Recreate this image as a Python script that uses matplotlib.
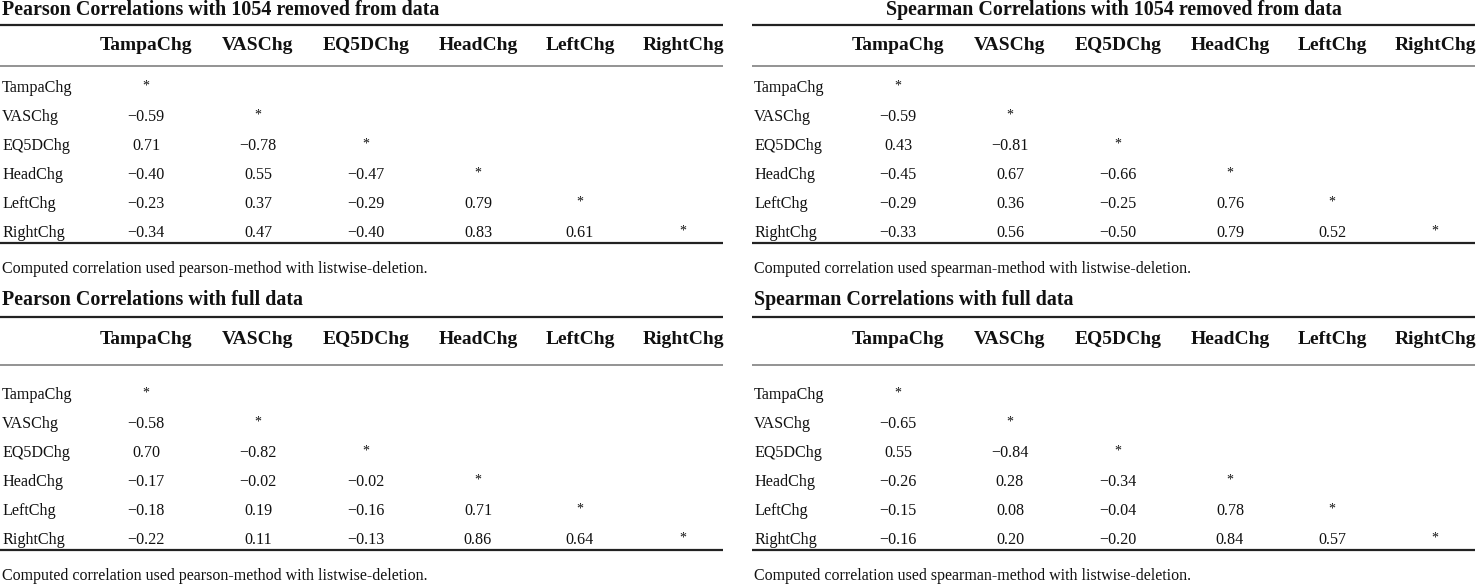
import matplotlib
matplotlib.use("Agg")
import matplotlib.pyplot as plt

# variable names (rows and columns are the same)
variables = ["TampaChg", "VASChg", "EQ5DChg", "HeadChg", "LeftChg", "RightChg"]

# lower triangle of each correlation matrix, row by row (diagonal shown as *)
pearson_removed = [
    [],
    [-0.59],
    [0.71, -0.78],
    [-0.40, 0.55, -0.47],
    [-0.23, 0.37, -0.29, 0.79],
    [-0.34, 0.47, -0.40, 0.83, 0.61],
]
spearman_removed = [
    [],
    [-0.59],
    [0.43, -0.81],
    [-0.45, 0.67, -0.66],
    [-0.29, 0.36, -0.25, 0.76],
    [-0.33, 0.56, -0.50, 0.79, 0.52],
]
pearson_full = [
    [],
    [-0.58],
    [0.70, -0.82],
    [-0.17, -0.02, -0.02],
    [-0.18, 0.19, -0.16, 0.71],
    [-0.22, 0.11, -0.13, 0.86, 0.64],
]
spearman_full = [
    [],
    [-0.65],
    [0.55, -0.84],
    [-0.26, 0.28, -0.34],
    [-0.15, 0.08, -0.04, 0.78],
    [-0.16, 0.20, -0.20, 0.84, 0.57],
]

titles = [
    "Pearson Correlations with 1054 removed from data",
    "Spearman Correlations with 1054 removed from data",
    "Pearson Correlations with full data",
    "Spearman Correlations with full data",
]
notes = [
    "Computed correlation used pearson-method with listwise-deletion.",
    "Computed correlation used spearman-method with listwise-deletion.",
    "Computed correlation used pearson-method with listwise-deletion.",
    "Computed correlation used spearman-method with listwise-deletion.",
]

W, H = 1476, 585
FONT = "Liberation Serif"
INK = "#111111"

fig = plt.figure(figsize=(W / 100, H / 100), dpi=100)
ax = fig.add_axes([0, 0, 1, 1])
ax.set_xlim(0, W)
ax.set_ylim(H, 0)
ax.axis("off")

col_x = [146, 258, 366, 478, 580, 683]
panel_w = 723


def fmt(v):
    s = f"{abs(v):.2f}"
    return ("\u2212" + s) if v < 0 else s


def draw_table(x0, base, rows_y0, gaps, data, title, note, centered_title):
    # title sits on its baseline
    tx, ha = (x0 + panel_w / 2, "center") if centered_title else (x0 + 2, "left")
    ax.text(tx, base, title, ha=ha, va="baseline",
            fontsize=14.4, fontweight="bold", family=FONT, color=INK)
    y_rule1 = base + gaps[0]
    y_head = base + gaps[1]
    y_rule2 = base + gaps[2]
    ax.hlines(y_rule1, x0, x0 + panel_w, color="#222222", lw=1.6)
    ax.hlines(y_rule2, x0, x0 + panel_w, color="#8a8a8a", lw=1.3)
    for j, name in enumerate(variables):
        ax.text(x0 + col_x[j], y_head, name, ha="center", va="center",
                fontsize=14, fontweight="bold", family=FONT, color=INK)
    for i, name in enumerate(variables):
        y = rows_y0 + 29 * i
        ax.text(x0 + 2, y, name, ha="left", va="center",
                fontsize=11.6, family=FONT, color=INK)
        for j, v in enumerate(data[i]):
            ax.text(x0 + col_x[j], y, fmt(v), ha="center", va="center",
                    fontsize=11.6, family=FONT, color=INK)
        ax.text(x0 + col_x[i], y - 2, "*", ha="center", va="center",
                fontsize=10, family=FONT, color=INK)
    y_bot = rows_y0 + 29 * 5 + 10
    ax.hlines(y_bot, x0, x0 + panel_w, color="#222222", lw=1.6)
    ax.text(x0 + 2, y_bot + 26, note, ha="left", va="center",
            fontsize=11.5, family=FONT, color=INK)


draw_table(0, 15, 88, (10, 30, 51), pearson_removed, titles[0], notes[0], False)
draw_table(752, 15, 88, (10, 30, 51), spearman_removed, titles[1], notes[1], True)
draw_table(0, 305, 395, (12, 35, 60), pearson_full, titles[2], notes[2], False)
draw_table(752, 305, 395, (12, 35, 60), spearman_full, titles[3], notes[3], False)

fig.savefig("out.png", dpi=100, facecolor="white")
